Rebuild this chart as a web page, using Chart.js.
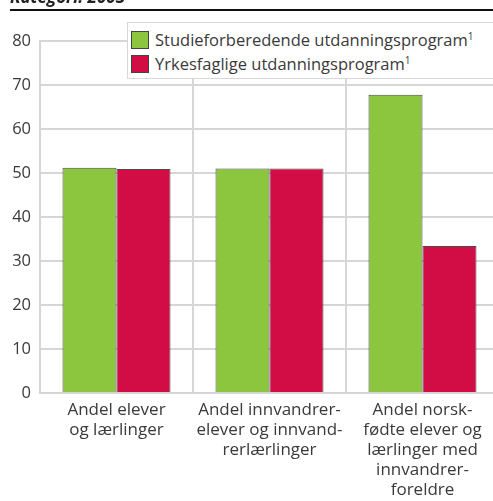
<!DOCTYPE html>
<html>
<head>
<meta charset="utf-8">
<script src="https://cdn.jsdelivr.net/npm/chart.js@4"></script>
<style>
  html, body { margin: 0; padding: 0; background: #fff; overflow: hidden; }
  #wrap { position: relative; width: 493px; height: 501px; overflow: hidden; }
  #title {
    position: absolute; left: 10px; top: -15px;
    font: bold italic 17px "Open Sans", sans-serif; color: #222;
  }
  #rule { position: absolute; left: 10px; top: 9px; width: 490px; height: 2px; background: #111; }
  #chartBox { position: absolute; left: 0; top: 0; width: 500px; height: 501px; }
  #legend {
    position: absolute; left: 127px; top: 22px; width: 380px; height: 57px;
    background: #fff; border: 1px solid #d8d8d8; box-sizing: border-box;
    font: 16.5px "Open Sans", sans-serif; color: #3a3a3a;
  }
  .item { position: absolute; left: 3px; height: 18px; line-height: 18px; white-space: nowrap; }
  .sw { display: inline-block; width: 16px; height: 16px; border: 1px solid #444; vertical-align: top; margin-right: 6px; }
  sup { font-size: 10px; vertical-align: 6px; line-height: 0; }
</style>
</head>
<body>
<div id="wrap">
  <div id="chartBox"><canvas id="chart" width="500" height="501"></canvas></div>
  <div id="title">Kategori: 2003</div>
  <div id="rule"></div>
  <div id="legend"></div>
</div>
<script>
// categories (x labels, one line per array entry)
var categories = [
  ["Andel elever", "og lærlinger"],
  ["Andel innvandrer-", "elever og innvand-", "rerlærlinger"],
  ["Andel norsk-", "fødte elever og", "lærlinger med", "innvandrer-", "foreldre"]
];

// series
var seriesNames = ["Studieforberedende utdanningsprogram", "Yrkesfaglige utdanningsprogram"];
var studieValues = [51.2, 51.0, 67.8];
var yrkesValues = [50.9, 51.0, 33.4];
var colors = ["#8cc63e", "#d20c44"];

// y axis ticks
var yTicks = [0, 10, 20, 30, 40, 50, 60, 70, 80];

// html legend
var legendEl = document.getElementById("legend");
seriesNames.forEach(function (name, i) {
  var item = document.createElement("div");
  item.className = "item";
  item.style.top = (8 + i * 24) + "px";
  item.innerHTML = '<span class="sw" style="background:' + colors[i] + '"></span>' + name + "<sup>1</sup>";
  legendEl.appendChild(item);
});

var gridColor = "#d6d6d6";

var ctx = document.getElementById("chart").getContext("2d");
var chart = new Chart(ctx, {
  type: "bar",
  data: {
    labels: categories,
    datasets: [
      {
        label: seriesNames[0],
        data: studieValues,
        backgroundColor: colors[0],
        borderColor: "#4a4a4a",
        borderWidth: 1,
      },
      {
        label: seriesNames[1],
        data: yrkesValues,
        backgroundColor: colors[1],
        borderColor: "#4a4a4a",
        borderWidth: 1,
      },
    ],
  },
  options: {
    responsive: false,
    animation: false,
    layout: { padding: { top: 41, right: 1, left: 0, bottom: 0 } },
    plugins: {
      legend: { display: false },
      tooltip: { enabled: false },
    },
    datasets: {
      bar: { barPercentage: 1, categoryPercentage: 0.706 },
    },
    scales: {
      x: {
        grid: { color: gridColor, lineWidth: 2, drawTicks: false, offset: true },
        border: { color: gridColor, width: 2 },
        ticks: {
          color: "#3a3a3a",
          font: { family: "Open Sans", size: 17, lineHeight: 1.18 },
          padding: 7,
          maxRotation: 0,
          autoSkip: false,
        },
        afterFit: function (scale) { scale.height = 108; },
      },
      y: {
        min: 0,
        max: 80,
        afterBuildTicks: function (scale) {
          scale.ticks = yTicks.map(function (v) { return { value: v }; });
        },
        grid: { color: gridColor, lineWidth: 2, drawTicks: false },
        border: { color: gridColor, width: 2 },
        ticks: {
          color: "#3a3a3a",
          font: { family: "Open Sans", size: 16.5 },
          padding: 9,
        },
        afterFit: function (scale) { scale.width = 40; },
      },
    },
  },
});
</script>
</body>
</html>
